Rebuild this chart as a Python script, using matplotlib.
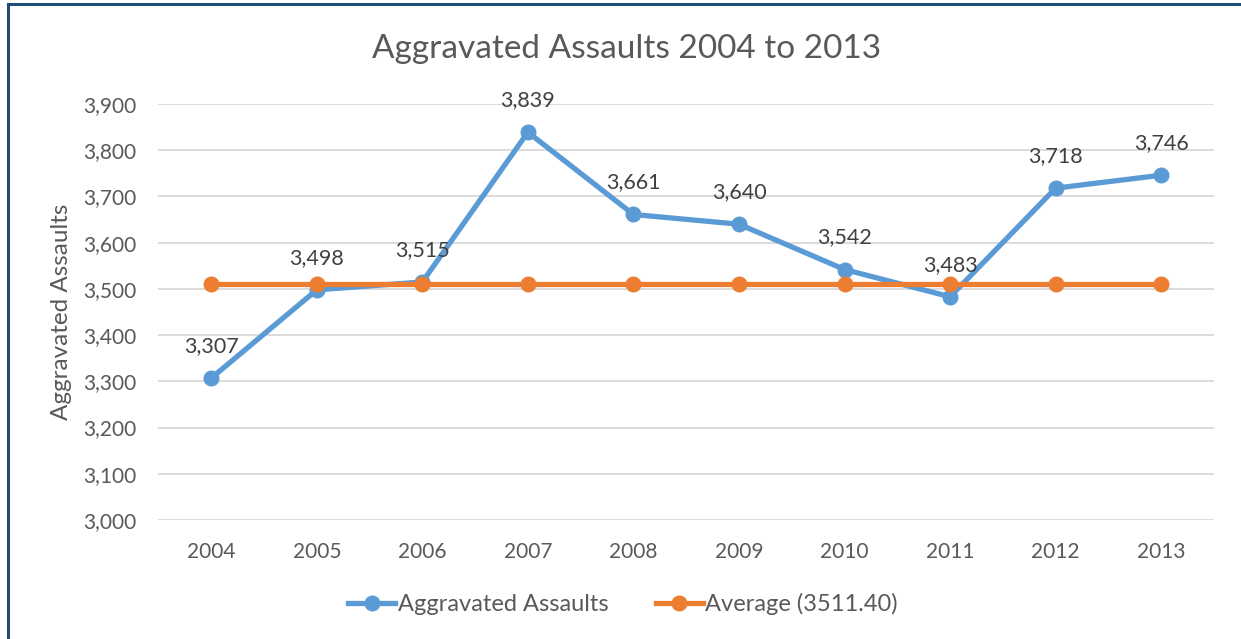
import matplotlib
matplotlib.use("Agg")
import matplotlib.pyplot as plt
from matplotlib.ticker import FuncFormatter
from matplotlib.lines import Line2D

years = ["2004", "2005", "2006", "2007", "2008", "2009", "2010", "2011", "2012", "2013"]
assaults = [3307, 3498, 3515, 3839, 3661, 3640, 3542, 3483, 3718, 3746]
average_value = 3511.40
average = [average_value] * len(years)
y_ticks = [3000, 3100, 3200, 3300, 3400, 3500, 3600, 3700, 3800, 3900]

BLUE = "#5b9bd5"
ORANGE = "#ed7d31"
TEXT = "#595959"
LABEL = "#404040"
FONT = ["Lato", "DejaVu Sans"]

plt.rcParams["font.family"] = FONT

fig = plt.figure(figsize=(12.41, 6.39), dpi=100)
ax = fig.add_axes([0.1277, 0.1862, 0.8505, 0.651])

x = list(range(len(years)))
ax.plot(x, assaults, color=BLUE, lw=3.8, marker="o", ms=10.5, zorder=3,
        solid_capstyle="round")
ax.plot(x, average, color=ORANGE, lw=3.8, marker="o", ms=10.5, zorder=4,
        solid_capstyle="round")

for xi, v in zip(x, assaults):
    ax.annotate(f"{v:,}", (xi, v), xytext=(0, 23), textcoords="offset points",
                ha="center", va="center", fontsize=15.5, color=LABEL, zorder=5)

ax.set_xlim(-0.5, len(years) - 0.5)
ax.set_ylim(3000, 3900)
ax.set_yticks(y_ticks)
ax.yaxis.set_major_formatter(FuncFormatter(lambda v, p: f"{int(v):,}"))
ax.set_xticks(x)
ax.set_xticklabels(years)
ax.tick_params(axis="both", length=0, labelsize=15, labelcolor=TEXT)
ax.tick_params(axis="y", pad=16)
ax.tick_params(axis="x", pad=16)
ax.grid(axis="y", color="#d9d9d9", lw=1.3)
ax.set_axisbelow(True)
for s in ax.spines.values():
    s.set_visible(False)

ax.set_ylabel("Aggravated Assaults", fontsize=17.5, color=TEXT, labelpad=8)
fig.text(0.505, 0.924, "Aggravated Assaults 2004 to 2013", ha="center", va="center",
         fontsize=24, color=TEXT)

handles = [
    Line2D([], [], color=BLUE, lw=3.8, marker="o", ms=10.5),
    Line2D([], [], color=ORANGE, lw=3.8, marker="o", ms=10.5),
]
fig.legend(handles, ["Aggravated Assaults", f"Average ({average_value:.2f})"],
           loc="center", bbox_to_anchor=(0.502, 0.055), ncol=2, frameon=False,
           fontsize=17, labelcolor=TEXT, handlelength=2.0, handletextpad=0.1,
           columnspacing=2.0)

# chart frame: top and left edges
fig.add_artist(Line2D([0.0063, 0.0063], [0, 0.9930], transform=fig.transFigure,
                      color="#1f4e79", lw=2.2))
fig.add_artist(Line2D([0.0063, 1.0], [0.9930, 0.9930], transform=fig.transFigure,
                      color="#1f4e79", lw=2.2))

fig.savefig("out.png", dpi=100, facecolor="white")
